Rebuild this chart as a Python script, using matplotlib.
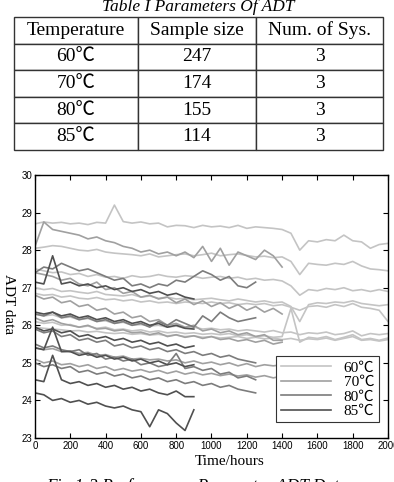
import numpy as np
import matplotlib
matplotlib.use("Agg")
import matplotlib.pyplot as plt

serif = ['Liberation Serif', 'Noto Sans CJK SC', 'DejaVu Serif']
sans = ['Liberation Sans', 'DejaVu Sans']

# table data
table_title = "Table I Parameters Of ADT"
col_labels = ["Temperature", "Sample size", "Num. of Sys."]
temps = ["60℃", "70℃", "80℃", "85℃"]
sample_size = [247, 174, 155, 114]
num_sys = [3, 3, 3, 3]

# ADT curves, one value every 50 hours
t60 = np.arange(0, 2001, 50)
t70 = np.arange(0, 1401, 50)
t80 = np.arange(0, 1251, 50)
t85 = np.arange(0, 901, 50)

adt60 = [
    [28.70, 28.75, 28.72, 28.74, 28.70, 28.72, 28.68, 28.74, 28.72, 29.20,
     28.76, 28.72, 28.75, 28.70, 28.72, 28.62, 28.66, 28.65, 28.60, 28.66,
     28.62, 28.64, 28.60, 28.66, 28.58, 28.62, 28.60, 28.58, 28.55, 28.45,
     28.00, 28.25, 28.22, 28.28, 28.25, 28.40, 28.25, 28.22, 28.05, 28.15,
     28.18],
    [28.05, 28.08, 28.12, 28.10, 28.05, 28.00, 27.98, 28.02, 27.95, 27.92,
     27.90, 27.88, 27.85, 27.90, 27.82, 27.85, 27.88, 27.90, 27.85, 27.88,
     27.92, 27.85, 27.88, 27.90, 27.86, 27.82, 27.84, 27.80, 27.82, 27.70,
     27.35, 27.65, 27.62, 27.60, 27.65, 27.62, 27.70, 27.58, 27.50, 27.48,
     27.45],
    [27.50, 27.45, 27.40, 27.42, 27.35, 27.38, 27.30, 27.35, 27.28, 27.30,
     27.25, 27.32, 27.28, 27.30, 27.35, 27.30, 27.28, 27.32, 27.30, 27.25,
     27.28, 27.30, 27.25, 27.28, 27.22, 27.25, 27.20, 27.22, 27.18, 27.05,
     26.80, 26.95, 26.92, 26.98, 26.95, 27.00, 26.92, 26.95, 26.90, 26.95,
     26.90],
    [27.00, 26.95, 26.98, 26.90, 26.92, 26.88, 26.85, 26.90, 26.82, 26.80,
     26.78, 26.82, 26.75, 26.78, 26.72, 26.75, 26.70, 26.72, 26.68, 26.70,
     26.72, 26.68, 26.65, 26.70, 26.66, 26.62, 26.65, 26.60, 26.62, 26.50,
     26.10, 26.55, 26.60, 26.58, 26.62, 26.60, 26.65, 26.58, 26.55, 26.52,
     26.55],
    [26.85, 26.80, 26.82, 26.75, 26.78, 26.72, 26.70, 26.74, 26.68, 26.70,
     26.65, 26.68, 26.62, 26.65, 26.60, 26.62, 26.58, 26.62, 26.60, 26.58,
     26.62, 26.58, 26.60, 26.55, 26.58, 26.55, 26.58, 26.52, 26.55, 26.48,
     26.40, 26.50, 26.52, 26.48, 26.55, 26.50, 26.58, 26.48, 26.45, 26.40,
     26.10],
    [26.30, 26.25, 26.28, 26.20, 26.22, 26.15, 26.18, 26.10, 26.12, 26.05,
     26.08, 26.00, 26.02, 25.98, 26.00, 25.95, 25.98, 25.92, 25.95, 25.90,
     25.92, 25.88, 25.90, 25.85, 25.88, 25.85, 25.82, 25.86, 25.80, 25.82,
     25.75, 25.80, 25.78, 25.82, 25.75, 25.78, 25.85, 25.72, 25.78, 25.75,
     25.78],
    [26.10, 26.05, 26.08, 26.00, 26.02, 25.95, 25.98, 25.92, 25.95, 25.88,
     25.90, 25.85, 25.88, 25.82, 25.85, 25.80, 25.82, 25.78, 25.80, 25.76,
     25.78, 25.75, 25.78, 25.72, 25.75, 25.70, 25.72, 25.68, 25.70, 26.45,
     25.55, 25.68, 25.65, 25.70, 25.62, 25.68, 25.75, 25.62, 25.65, 25.60,
     25.66],
    [25.95, 25.92, 25.90, 25.88, 25.85, 25.86, 25.82, 25.84, 25.80, 25.78,
     25.80, 25.76, 25.78, 25.74, 25.76, 25.72, 25.74, 25.70, 25.72, 25.68,
     25.70, 25.66, 25.68, 25.70, 25.65, 25.68, 25.64, 25.66, 25.62, 25.65,
     25.60, 25.64, 25.62, 25.66, 25.60, 25.65, 25.70, 25.60, 25.62, 25.58,
     25.62],
]

adt70 = [
    [28.10, 28.75, 28.55, 28.50, 28.45, 28.40, 28.30, 28.35, 28.25, 28.20,
     28.10, 28.05, 27.95, 28.00, 27.90, 27.95, 27.85, 27.95, 27.80, 28.10,
     27.70, 28.05, 27.60, 27.95, 27.85, 27.75, 28.00, 27.85, 27.55],
    [27.40, 27.35, 27.30, 27.20, 27.25, 27.10, 27.05, 27.15, 26.95, 27.00,
     26.85, 26.90, 26.75, 26.80, 26.70, 26.75, 26.60, 26.70, 26.55, 26.65,
     26.50, 26.60, 26.45, 26.55, 26.40, 26.50, 26.35, 26.45, 26.30],
    [26.80, 26.70, 26.75, 26.60, 26.65, 26.50, 26.55, 26.40, 26.45, 26.30,
     26.35, 26.20, 26.25, 26.10, 26.15, 26.00, 26.05, 25.95, 26.00, 25.85,
     25.90, 25.80, 25.85, 25.75, 25.80, 25.70, 25.75, 25.60, 25.60],
    [26.20, 26.10, 26.15, 26.05, 26.00, 25.95, 26.00, 25.90, 25.92, 25.85,
     25.88, 25.80, 25.82, 25.75, 25.80, 25.70, 25.75, 25.68, 25.72, 25.65,
     25.70, 25.62, 25.65, 25.58, 25.62, 25.55, 25.60, 25.50, 25.55],
    [25.40, 25.35, 25.38, 25.30, 25.32, 25.25, 25.28, 25.20, 25.22, 25.15,
     25.18, 25.10, 25.12, 25.08, 25.10, 25.05, 25.08, 25.00, 25.05, 24.98,
     25.02, 24.95, 25.00, 24.92, 24.98, 24.90, 24.95, 24.92, 24.95],
    [25.10, 25.00, 25.05, 24.95, 24.98, 24.90, 24.95, 24.85, 24.90, 24.80,
     24.85, 24.78, 24.82, 24.75, 24.80, 24.72, 24.78, 24.70, 24.75, 24.68,
     24.72, 24.66, 24.70, 24.65, 24.68, 24.62, 24.66, 24.60, 24.65],
]

adt80 = [
    [27.40, 27.55, 27.50, 27.65, 27.55, 27.45, 27.50, 27.40, 27.30, 27.20,
     27.25, 27.05, 27.10, 27.00, 27.10, 27.05, 27.20, 27.15, 27.30, 27.45,
     27.35, 27.20, 27.30, 27.05, 27.00, 27.15],
    [26.30, 26.25, 26.35, 26.20, 26.25, 26.15, 26.20, 26.10, 26.15, 26.05,
     26.10, 26.00, 26.05, 25.95, 26.10, 26.00, 26.15, 26.05, 25.95, 26.25,
     26.10, 26.35, 26.20, 26.10, 26.15, 26.20],
    [25.90, 25.80, 25.85, 25.70, 25.75, 25.60, 25.65, 25.55, 25.60, 25.45,
     25.50, 25.40, 25.45, 25.35, 25.40, 25.30, 25.35, 25.25, 25.30, 25.20,
     25.25, 25.15, 25.20, 25.10, 25.05, 25.00],
    [25.50, 25.40, 25.45, 25.35, 25.30, 25.35, 25.20, 25.25, 25.10, 25.15,
     25.05, 25.10, 24.95, 25.00, 24.90, 24.95, 25.25, 24.85, 24.90, 24.80,
     24.85, 24.70, 24.75, 24.60, 24.65, 24.55],
    [25.00, 24.90, 24.95, 24.85, 24.90, 24.75, 24.80, 24.70, 24.75, 24.65,
     24.70, 24.60, 24.65, 24.55, 24.60, 24.50, 24.55, 24.45, 24.50, 24.40,
     24.45, 24.35, 24.40, 24.30, 24.25, 24.20],
]

adt85 = [
    [27.15, 27.10, 27.85, 27.10, 27.15, 27.05, 27.10, 27.00, 27.05, 26.95,
     27.00, 26.90, 26.95, 26.85, 26.90, 26.80, 26.85, 26.75, 26.70],
    [26.35, 26.30, 26.35, 26.25, 26.30, 26.20, 26.25, 26.15, 26.20, 26.10,
     26.15, 26.05, 26.10, 26.00, 26.05, 25.95, 26.00, 25.92, 25.90],
    [25.95, 25.85, 25.90, 25.80, 25.85, 25.70, 25.75, 25.65, 25.70, 25.60,
     25.65, 25.55, 25.60, 25.50, 25.55, 25.45, 25.50, 25.40, 25.45],
    [25.40, 25.35, 25.95, 25.30, 25.30, 25.20, 25.25, 25.15, 25.20, 25.10,
     25.15, 25.05, 25.10, 25.00, 25.05, 24.95, 25.00, 24.90, 24.95],
    [24.55, 24.50, 25.20, 24.55, 24.45, 24.50, 24.40, 24.45, 24.35, 24.40,
     24.30, 24.35, 24.25, 24.30, 24.20, 24.15, 24.25, 24.10, 24.10],
    [24.20, 24.15, 24.00, 24.05, 23.95, 24.00, 23.90, 23.95, 23.85, 23.80,
     23.85, 23.75, 23.70, 23.30, 23.75, 23.65, 23.40, 23.20, 23.75],
]

groups = [(t60, adt60, '#c4c4c4'), (t70, adt70, '#a0a0a0'),
          (t80, adt80, '#7c7c7c'), (t85, adt85, '#505050')]

fig = plt.figure(figsize=(3.94, 4.82), dpi=100)

# table on top
axt = fig.add_axes([0.0355, 0.6888, 0.9365, 0.276])
axt.axis('off')
cells = [[temps[i], str(sample_size[i]), str(num_sys[i])] for i in range(len(temps))]
tab = axt.table(cellText=cells, colLabels=col_labels, cellLoc='center',
                bbox=[0, 0, 1, 1], colWidths=[124, 118, 127])
tab.auto_set_font_size(False)
for (r, c), cell in tab.get_celld().items():
    cell.set_linewidth(1.0)
    cell.set_edgecolor('#333333')
    cell.get_text().set_fontsize(14)
    cell.get_text().set_family(serif)
fig.text(0.503, 0.985, table_title, ha='center', va='center', fontsize=12.5,
         style='italic', family=serif)

# ADT plot
ax = fig.add_axes([0.0888, 0.0913, 0.896, 0.5456])
for t, curves, col in groups:
    for y in curves:
        ax.plot(t, y, color=col, lw=1.2)
hs = [ax.plot([], [], color=col, lw=1.2)[0] for _, _, col in groups]
ax.set_xlim(0, 2000)
ax.set_ylim(23, 30)
ax.set_xticks(np.arange(0, 2001, 200))
ax.set_yticks(np.arange(23, 31, 1))
ax.tick_params(direction='in', top=True, right=True, length=3.5, width=0.8,
               labelsize=7, pad=2)
for lab in ax.get_xticklabels() + ax.get_yticklabels():
    lab.set_family(sans)
for s in ax.spines.values():
    s.set_linewidth(1.0)
ax.set_xlabel('Time/hours', fontsize=11, family=serif)
ax.xaxis.set_label_coords(0.55, -0.065)
fig.text(0.005, 0.37, 'ADT data', rotation=270, ha='left', va='center',
         fontsize=11, family=serif)
leg = ax.legend(hs, temps, loc='lower right', prop={'family': serif, 'size': 11},
                fancybox=False, edgecolor='#333333', handlelength=3.3,
                labelspacing=0.05, borderpad=0.3, framealpha=1,
                bbox_to_anchor=(0.995, 0.03))
leg.get_frame().set_linewidth(0.8)

fig.text(0.5, 0.008, 'Fig.1-3 Performance Parameter ADT Data', ha='center',
         va='top', fontsize=12.5, style='italic', family=serif)

fig.savefig('out.png', dpi=100)
